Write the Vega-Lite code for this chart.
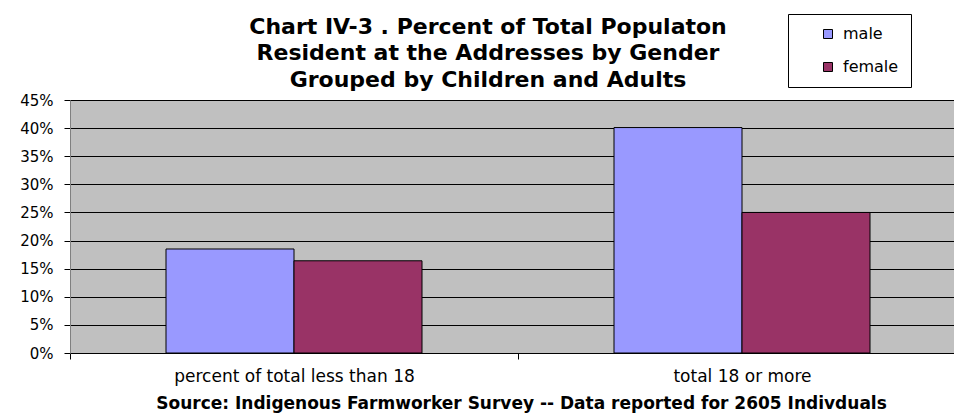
{
  "$schema": "https://vega.github.io/schema/vega-lite/v6.json",
  "width": 884,
  "height": 253,
  "autosize": {"type": "none"},
  "padding": {"left": 70, "top": 100, "right": 0, "bottom": 63},
  "background": "white",
  "title": {
    "text": ["Chart IV-3 .  Percent of Total Populaton", "Resident at the Addresses by Gender", "Grouped by Children and Adults"],
    "font": "DejaVu Sans",
    "fontSize": 22,
    "fontWeight": "bold",
    "color": "black",
    "lineHeight": 26.5,
    "anchor": "middle",
    "frame": "group",
    "dx": -24,
    "dy": 92,
    "offset": 14
  },
  "data": {
    "values": [
      {"group": "percent of total less than 18", "gender": "male", "pct": 0.185},
      {"group": "percent of total less than 18", "gender": "female", "pct": 0.164},
      {"group": "total 18 or more", "gender": "male", "pct": 0.401},
      {"group": "total 18 or more", "gender": "female", "pct": 0.25}
    ]
  },
  "mark": {"type": "bar", "stroke": "black", "strokeWidth": 1},
  "encoding": {
    "x": {
      "field": "group",
      "type": "nominal",
      "sort": null,
      "scale": {"range": [0, 896], "paddingInner": 0, "paddingOuter": 0},
      "axis": {
        "title": "Source: Indigenous Farmworker Survey  -- Data reported for 2605 Indivduals",
        "titleFont": "DejaVu Sans",
        "titleFontSize": 17,
        "titleFontWeight": "bold",
        "titleColor": "black",
        "titlePadding": 11,
        "titleX": 451,
        "labelAngle": 0,
        "labelFont": "DejaVu Sans",
        "labelFontSize": 17,
        "labelColor": "black",
        "labelPadding": 9,
        "labelLimit": 0,
        "tickBand": "extent",
        "tickSize": 6,
        "tickColor": "black",
        "domainColor": "black",
        "grid": false
      }
    },
    "xOffset": {
      "field": "gender",
      "sort": ["male", "female"],
      "scale": {"paddingInner": 0, "paddingOuter": 0.75}
    },
    "y": {
      "field": "pct",
      "type": "quantitative",
      "scale": {"domain": [0, 0.45], "nice": false},
      "axis": {
        "title": null,
        "values": [0, 0.05, 0.1, 0.15, 0.2, 0.25, 0.3, 0.35, 0.4, 0.45],
        "format": ".0%",
        "labelFont": "DejaVu Sans",
        "labelFontSize": 15,
        "labelColor": "black",
        "labelPadding": 11,
        "tickSize": 6,
        "tickColor": "black",
        "domainColor": "#808080",
        "grid": true,
        "gridColor": "black",
        "gridOpacity": 1,
        "gridWidth": 1
      }
    },
    "color": {
      "field": "gender",
      "type": "nominal",
      "sort": ["male", "female"],
      "scale": {"range": ["#9999FF", "#993366"]},
      "legend": {
        "orient": "none",
        "legendX": 718,
        "legendY": -86,
        "title": null,
        "fillColor": "white",
        "strokeColor": "black",
        "padding": 12,
        "symbolType": "square",
        "symbolSize": 81,
        "symbolStrokeColor": "black",
        "symbolStrokeWidth": 1,
        "symbolOpacity": 1,
        "labelFont": "DejaVu Sans",
        "labelFontSize": 16,
        "labelColor": "black",
        "labelOffset": 7,
        "rowPadding": 17,
        "symbolOffset": 20
      }
    }
  },
  "config": {
    "view": {"fill": "#C0C0C0", "stroke": null},
    "bar": {"opacity": 1}
  }
}
